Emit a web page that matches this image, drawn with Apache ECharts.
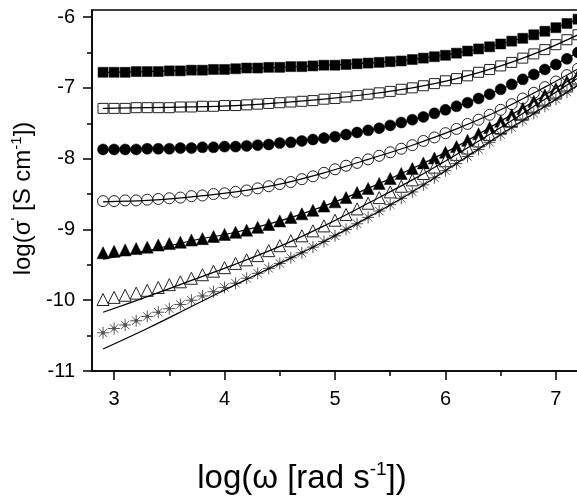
<!DOCTYPE html>
<html>
<head>
<meta charset="utf-8">
<script src="https://cdn.jsdelivr.net/npm/echarts@6/dist/echarts.min.js"></script>
<style>html,body{margin:0;padding:0;background:#fff}#c{width:577px;height:496px}</style>
</head>
<body>
<div id="c"></div>
<script>
// log(omega) sample positions
const xs = [2.9,3.0,3.1,3.2,3.3,3.4,3.5,3.6,3.7,3.8,3.9,4.0,4.1,4.2,4.3,4.4,4.5,4.6,4.7,4.8,4.9,5.0,5.1,5.2,5.3,5.4,5.5,5.6,5.7,5.8,5.9,6.0,6.1,6.2,6.3,6.4,6.5,6.6,6.7,6.8,6.9,7.0,7.1,7.2];
// measured log(sigma') per series
const filledSquares = [-6.78,-6.78,-6.78,-6.77,-6.77,-6.77,-6.76,-6.76,-6.75,-6.75,-6.74,-6.74,-6.73,-6.72,-6.72,-6.71,-6.71,-6.70,-6.70,-6.69,-6.68,-6.68,-6.67,-6.66,-6.65,-6.64,-6.63,-6.62,-6.60,-6.58,-6.56,-6.54,-6.51,-6.48,-6.45,-6.42,-6.38,-6.34,-6.30,-6.25,-6.20,-6.15,-6.09,-6.03];
const openSquares = [-7.29,-7.29,-7.29,-7.28,-7.28,-7.28,-7.28,-7.27,-7.27,-7.26,-7.26,-7.25,-7.25,-7.24,-7.23,-7.22,-7.21,-7.20,-7.19,-7.18,-7.16,-7.15,-7.13,-7.11,-7.09,-7.07,-7.05,-7.02,-7.00,-6.97,-6.94,-6.90,-6.87,-6.83,-6.78,-6.74,-6.69,-6.64,-6.58,-6.52,-6.46,-6.39,-6.32,-6.25];
const filledCircles = [-7.87,-7.87,-7.87,-7.87,-7.86,-7.86,-7.86,-7.85,-7.85,-7.84,-7.84,-7.83,-7.83,-7.82,-7.81,-7.80,-7.78,-7.77,-7.75,-7.73,-7.71,-7.69,-7.66,-7.63,-7.60,-7.57,-7.53,-7.49,-7.45,-7.41,-7.36,-7.31,-7.26,-7.21,-7.15,-7.09,-7.02,-6.95,-6.88,-6.81,-6.74,-6.67,-6.59,-6.50];
const openCircles = [-8.60,-8.60,-8.59,-8.59,-8.58,-8.57,-8.56,-8.55,-8.53,-8.52,-8.50,-8.49,-8.47,-8.45,-8.42,-8.39,-8.36,-8.33,-8.29,-8.25,-8.20,-8.15,-8.10,-8.06,-8.01,-7.96,-7.91,-7.86,-7.81,-7.75,-7.70,-7.64,-7.58,-7.51,-7.45,-7.38,-7.31,-7.23,-7.15,-7.07,-6.99,-6.91,-6.82,-6.73];
const filledTriangles = [-9.33,-9.31,-9.29,-9.27,-9.25,-9.22,-9.20,-9.18,-9.15,-9.13,-9.10,-9.07,-9.04,-9.01,-8.97,-8.93,-8.88,-8.83,-8.78,-8.73,-8.67,-8.61,-8.55,-8.48,-8.42,-8.35,-8.28,-8.21,-8.14,-8.06,-7.99,-7.91,-7.83,-7.74,-7.65,-7.56,-7.47,-7.38,-7.29,-7.19,-7.10,-7.01,-6.91,-6.82];
const openTriangles = [-9.99,-9.96,-9.93,-9.90,-9.86,-9.82,-9.78,-9.74,-9.69,-9.64,-9.59,-9.54,-9.48,-9.43,-9.37,-9.30,-9.23,-9.16,-9.09,-9.02,-8.95,-8.87,-8.79,-8.71,-8.63,-8.55,-8.47,-8.39,-8.30,-8.21,-8.12,-8.03,-7.94,-7.85,-7.75,-7.66,-7.56,-7.46,-7.36,-7.26,-7.16,-7.06,-6.96,-6.86];
const stars = [-10.46,-10.40,-10.35,-10.29,-10.23,-10.17,-10.12,-10.06,-10.00,-9.94,-9.88,-9.82,-9.76,-9.69,-9.62,-9.55,-9.48,-9.40,-9.33,-9.25,-9.17,-9.09,-9.00,-8.92,-8.83,-8.74,-8.65,-8.56,-8.47,-8.37,-8.27,-8.17,-8.07,-7.97,-7.87,-7.77,-7.66,-7.56,-7.46,-7.36,-7.26,-7.16,-7.06,-6.96];
// fitted curves
const fitX = [2.9,3.3,3.7,4.1,4.5,4.9,5.3,5.7,6.1,6.5,6.9,7.2];
const fitA = [-6.78,-6.77,-6.75,-6.73,-6.71,-6.68,-6.65,-6.60,-6.51,-6.38,-6.20,-6.03];
const fitB = [-7.29,-7.28,-7.27,-7.25,-7.21,-7.16,-7.09,-7.00,-6.87,-6.69,-6.46,-6.25];
const fitC = [-7.87,-7.86,-7.85,-7.83,-7.78,-7.71,-7.60,-7.45,-7.26,-7.02,-6.74,-6.50];
const fitD = [-8.61,-8.59,-8.54,-8.47,-8.36,-8.20,-8.01,-7.81,-7.58,-7.31,-6.99,-6.73];
const fitE = [-9.42,-9.30,-9.16,-9.04,-8.88,-8.67,-8.42,-8.14,-7.83,-7.47,-7.10,-6.82];
const fitF = [-10.17,-9.95,-9.72,-9.49,-9.24,-8.95,-8.63,-8.30,-7.94,-7.56,-7.16,-6.86];
const fitG = [-10.69,-10.40,-10.09,-9.78,-9.48,-9.17,-8.83,-8.47,-8.07,-7.66,-7.26,-6.96];
// tick labels
const xMajor = [3,4,5,6,7];
const xMinor = [3.5,4.5,5.5,6.5];
const yMajor = [-11,-10,-9,-8,-7,-6];
const yMinor = [-10.5,-9.5,-8.5,-7.5,-6.5];

const FONT = '"Liberation Sans", Arial, Helvetica, sans-serif';
const pairs = (x, y) => x.map((v, i) => [v, y[i]]);
const starPath = 'path://M0 5L10 5M5 0L5 10M1.5 1.5L8.5 8.5M1.5 8.5L8.5 1.5M4 4L6 4L6 6L4 6Z';

function markerSeries(data, symbol, size, filled) {
  return {
    type: 'scatter', data: pairs(xs, data), symbol: symbol, symbolSize: size,
    itemStyle: filled ? { color: '#000', borderColor: '#000', borderWidth: 0.5, opacity: 1 }
                      : { color: '#fff', borderColor: '#222', borderWidth: 1, opacity: 1 },
    z: 2, silent: true, animation: false
  };
}
function fitSeries(data) {
  return {
    type: 'line', data: pairs(fitX, data), showSymbol: false, smooth: 0.35,
    lineStyle: { color: '#000', width: 1.2 }, z: 3, silent: true, animation: false
  };
}

const chart = echarts.init(document.getElementById('c'), null, { renderer: 'canvas' });
chart.setOption({
  backgroundColor: '#fff',
  animation: false,
  grid: { left: 92, top: 10, width: 486, height: 361, outerBoundsMode: 'none', containLabel: false,
          show: true, borderColor: '#000', borderWidth: 1.5, backgroundColor: 'transparent' },
  xAxis: [{
    type: 'value', min: 2.8, max: 7.2, position: 'bottom',
    axisLine: { show: true, onZero: false, lineStyle: { color: '#000', width: 1.5 } },
    axisTick: { show: true, inside: false, length: 9, customValues: xMajor, lineStyle: { color: '#000', width: 1.5 } },
    axisLabel: { customValues: xMajor, color: '#000', fontSize: 20, fontFamily: FONT, margin: 18 },
    splitLine: { show: false },
    name: '{n|log(ω [rad s}{s|-1}{n|])}',
    nameLocation: 'middle', nameGap: 89,
    nameTextStyle: {
      padding: [0, 66, 0, 0],
      rich: {
        n: { fontSize: 33, fontFamily: FONT, color: '#000', lineHeight: 38 },
        s: { fontSize: 19, fontFamily: FONT, color: '#000', verticalAlign: 'top', lineHeight: 38 }
      }
    }
  }, {
    type: 'value', min: 2.8, max: 7.2, position: 'bottom',
    axisLine: { show: false },
    axisTick: { show: true, inside: false, length: 5, customValues: xMinor, lineStyle: { color: '#000', width: 1.5 } },
    axisLabel: { show: false },
    splitLine: { show: false }
  }],
  yAxis: [{
    type: 'value', min: -11, max: -5.9, position: 'left',
    axisLine: { show: true, onZero: false, lineStyle: { color: '#000', width: 1.5 } },
    axisTick: { show: true, inside: false, length: 9, customValues: yMajor, lineStyle: { color: '#000', width: 1.5 } },
    axisLabel: { customValues: yMajor, color: '#000', fontSize: 20, fontFamily: FONT, margin: 17 },
    splitLine: { show: false },
    name: "{n|log(σ}{s|'}{n| [S cm}{s|-1}{n|])}",
    nameLocation: 'middle', nameGap: 47,
    nameTextStyle: {
      padding: [0, 16, 0, 0],
      rich: {
        n: { fontSize: 24, fontFamily: FONT, color: '#000', lineHeight: 28 },
        s: { fontSize: 15, fontFamily: FONT, color: '#000', verticalAlign: 'top', lineHeight: 28 }
      }
    }
  }, {
    type: 'value', min: -11, max: -5.9, position: 'left',
    axisLine: { show: false },
    axisTick: { show: true, inside: false, length: 5, customValues: yMinor, lineStyle: { color: '#000', width: 1.5 } },
    axisLabel: { show: false },
    splitLine: { show: false }
  }],
  series: [
    markerSeries(filledSquares, 'rect', 10, true),
    markerSeries(openSquares, 'rect', 10, false),
    markerSeries(filledCircles, 'circle', 11, true),
    markerSeries(openCircles, 'circle', 11, false),
    markerSeries(filledTriangles, 'triangle', 12, true),
    markerSeries(openTriangles, 'triangle', 12, false),
    {
      type: 'scatter', data: pairs(xs, stars), symbol: starPath, symbolSize: 12,
      itemStyle: { color: '#000', borderColor: '#555', borderWidth: 1, opacity: 1 }, z: 2, silent: true, animation: false
    },
    fitSeries(fitA), fitSeries(fitB), fitSeries(fitC), fitSeries(fitD),
    fitSeries(fitE), fitSeries(fitF), fitSeries(fitG)
  ]
});
</script>
</body>
</html>
